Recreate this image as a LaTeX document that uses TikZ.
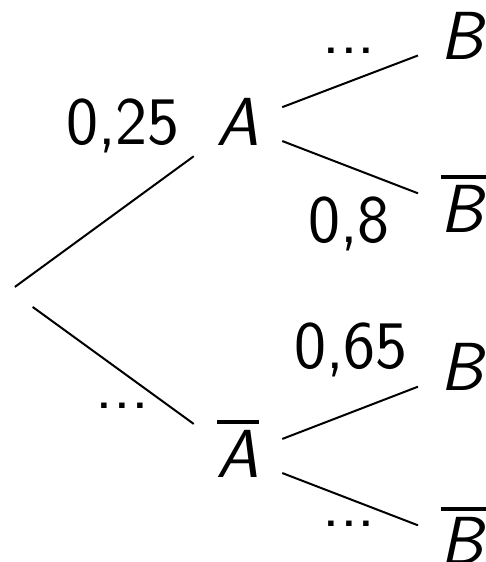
\documentclass[tikz,border=0pt]{standalone}
\usepackage{tikz}
\usetikzlibrary{positioning}
\newcommand{\treefont}{\fontsize{34}{40}\selectfont\sffamily}
\newcommand{\barred}[1]{\vbox{\hrule height 1.8pt\kern 3.5pt\hbox{\textit{#1}\/}}}
\tikzset{
  eventbox/.style={
    font=\treefont, inner sep=11.3pt,
    text height=22.8pt, text depth=1pt
  },
  problabel/.style={
    font=\treefont, anchor=base, inner sep=0pt
  },
  branchline/.style={
    line width=1pt, color=black
  },
}
\begin{document}
\begin{tikzpicture}[x=0.5pt, y=0.5pt]
  \useasboundingbox (0,0) rectangle (486,562);
  \coordinate (root) at (10,271.5);
  % First level
  \node[eventbox] (A) at (238,438) {\textit{A}};
  \node[eventbox] (Abar) at (238,106) {\barred{A}};
  \draw[branchline, shorten <=3pt] (root) -- (A);
  \draw[branchline, shorten <=14pt] (root) -- (Abar);
  \node[problabel] (pA) at (123,417) {0,25};
  \node[problabel] (pAbar) at (122.5,153) {...};
  % Upper branch
  \node[eventbox] (B1) at (464,524) {\textit{B}};
  \node[eventbox] (Bbar1) at (464,351) {\barred{B}};
  \draw[branchline] (A) -- (B1);
  \draw[branchline] (A) -- (Bbar1);
  \node[problabel] (pB1) at (349,508) {...};
  \node[problabel] (pBbar1) at (349,319) {0,8};
  % Lower branch
  \node[eventbox] (B2) at (464,193) {\textit{B}};
  \node[eventbox] (Bbar2) at (464,19) {\barred{B}};
  \draw[branchline] (Abar) -- (B2);
  \draw[branchline] (Abar) -- (Bbar2);
  \node[problabel] (pB2) at (351,193) {0,65};
  \node[problabel] (pBbar2) at (349,35) {...};
\end{tikzpicture}
\end{document}
